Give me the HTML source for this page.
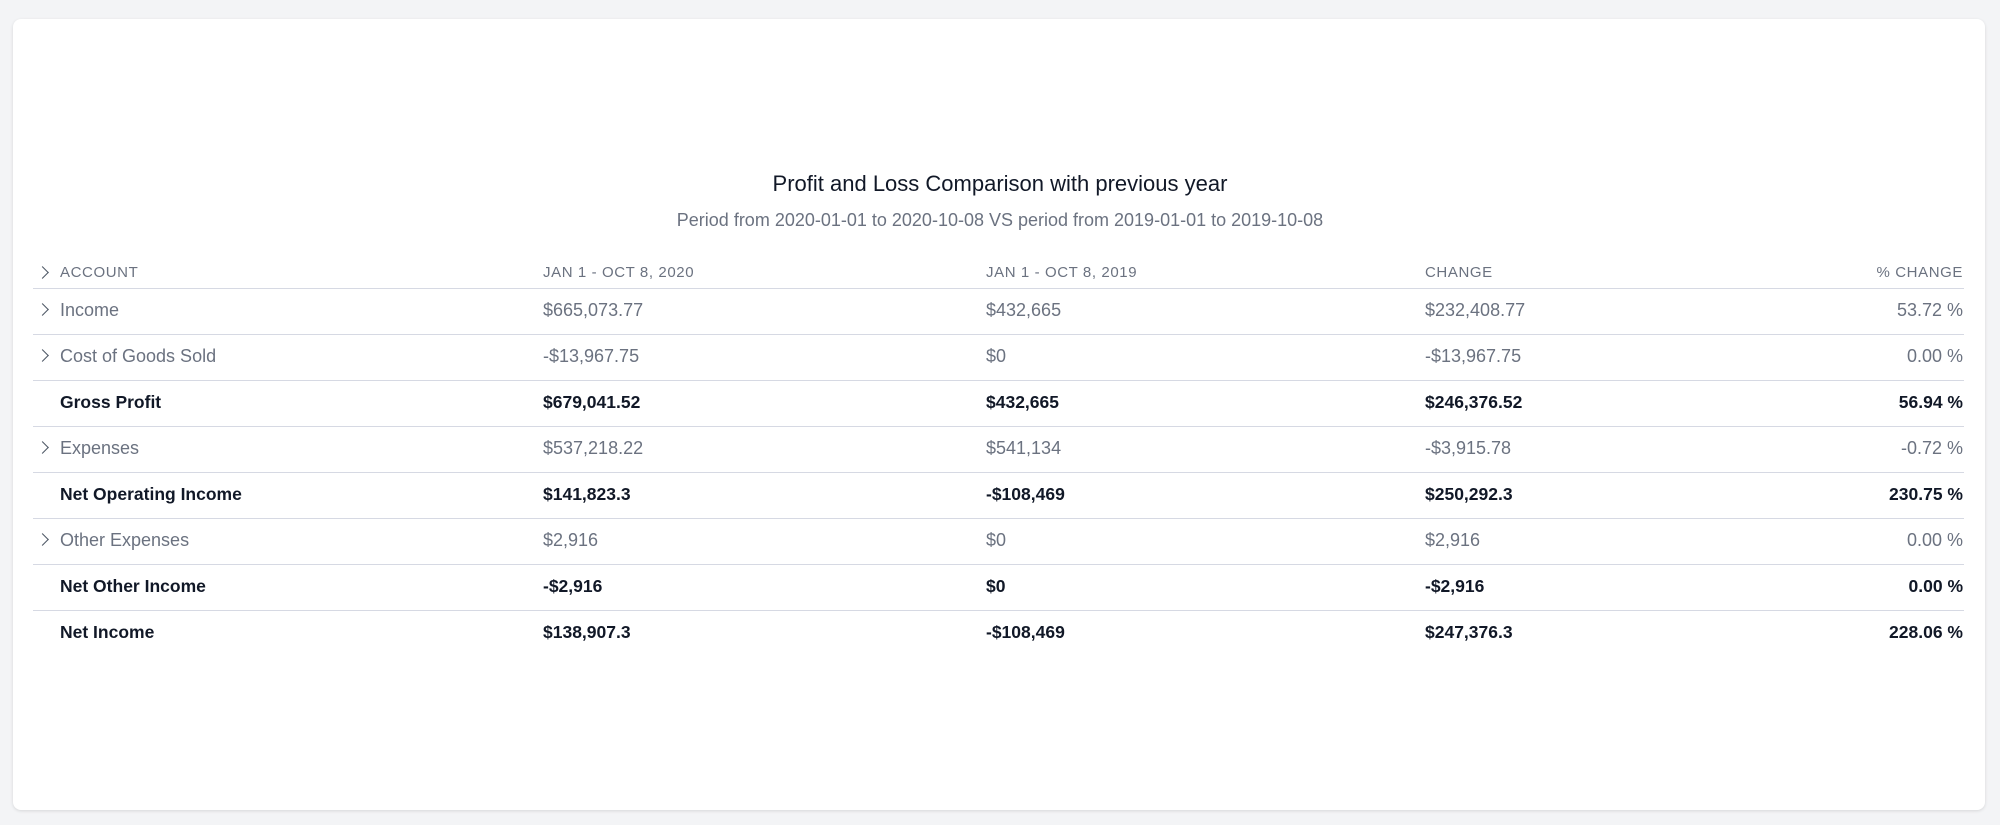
<!DOCTYPE html>
<html><head><meta charset="utf-8">
<style>
html,body{margin:0;padding:0;width:2000px;height:825px;background:#f3f4f6;font-family:"Liberation Sans",sans-serif;overflow:hidden}
.card{position:absolute;left:13px;top:19px;width:1972px;height:791px;background:#fff;border-radius:8px;box-shadow:0 1px 3px rgba(0,0,0,.12)}
.title{position:absolute;left:0;width:2000px;top:171px;text-align:center;font-size:22px;color:#111827}
.sub{position:absolute;left:0;width:2000px;top:210px;text-align:center;font-size:18px;color:#6b7280}
.cell{position:absolute;white-space:nowrap;font-size:18px;line-height:22px}
.hdr{font-size:15px;letter-spacing:.6px;color:#6b7280}
.line{position:absolute;left:33px;width:1931px;height:1px;background:#d6d9e3}
.chev{position:absolute;width:8px;height:8px;border-right:1.6px solid #4b5563;border-top:1.6px solid #4b5563;transform:rotate(45deg)}
</style></head><body>
<div class="card"></div>
<div class="title">Profit and Loss Comparison with previous year</div>
<div class="sub">Period from 2020-01-01 to 2020-10-08 VS period from 2019-01-01 to 2019-10-08</div>
<div id="tbl"></div>
<script>
const headers=["ACCOUNT","JAN 1 - OCT 8, 2020","JAN 1 - OCT 8, 2019","CHANGE","% CHANGE"];
const accounts=["Income","Cost of Goods Sold","Gross Profit","Expenses","Net Operating Income","Other Expenses","Net Other Income","Net Income"];
const current=["$665,073.77","-$13,967.75","$679,041.52","$537,218.22","$141,823.3","$2,916","-$2,916","$138,907.3"];
const previous=["$432,665","$0","$432,665","$541,134","-$108,469","$0","$0","-$108,469"];
const change=["$232,408.77","-$13,967.75","$246,376.52","-$3,915.78","$250,292.3","$2,916","-$2,916","$247,376.3"];
const pctChange=["53.72 %","0.00 %","56.94 %","-0.72 %","230.75 %","0.00 %","0.00 %","228.06 %"];
const expandable=[true,true,false,true,false,true,false,false];
const tbl=document.getElementById('tbl');
const colX=[60,543,986,1425];
function add(cls,txt,x,y,name,inter,right){
  const d=document.createElement('div');
  d.className='cell '+cls;
  d.textContent=txt;
  if(right){d.style.right=(2000-x)+'px';}else{d.style.left=x+'px';}
  d.style.top=(y-11)+'px';
  
  
  tbl.appendChild(d);return d;
}
function chev(y,name){
  const c=document.createElement('div');
  c.className='chev';
  c.style.left='38px';c.style.top=(y-5)+'px';
  
  
  tbl.appendChild(c);
}
function line(y){
  const l=document.createElement('div');
  l.className='line';l.style.top=y+'px';
  
  
  tbl.appendChild(l);
}
const hy=273;
chev(hy,'expand-all-toggle');
for(let i=0;i<4;i++)add('hdr',headers[i],colX[i],hy,'column-header',false,false);
add('hdr',headers[4],1963,hy,'column-header',false,true);
line(288);
const rowH=46, firstY=310;
accounts.forEach((a,i)=>{
  const y=firstY+i*rowH;
  const bold=!expandable[i];
  const st=bold?'color:#111827;font-weight:500':'color:#6b7280';
  if(expandable[i])chev(y,'expand-row-toggle');
  const vals=[a,current[i],previous[i],change[i]];
  vals.forEach((v,j)=>{add('',v,colX[j],y,j==0?'account-name':'row-value',j==0&&expandable[i],false).setAttribute('style',st+';left:'+colX[j]+'px;top:'+(y-11)+'px;'+(bold?'font-weight:bold;font-size:17.5px':''));});
  const p=add('',pctChange[i],1963,y,'percent-change',false,true);
  p.setAttribute('style',st+';right:37px;top:'+(y-11)+'px;'+(bold?'font-weight:bold;font-size:17.5px':''));
  if(i<accounts.length-1)line(y+24);
});
</script>
</body></html>
